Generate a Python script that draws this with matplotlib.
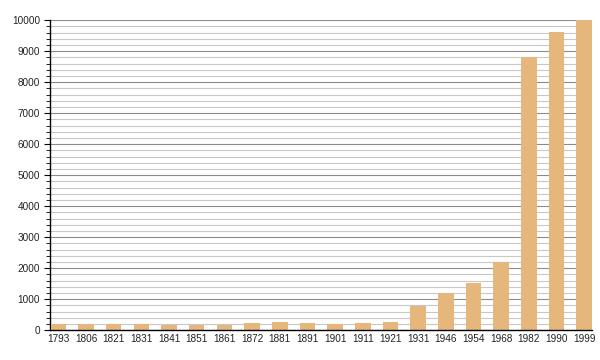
import numpy as np
import matplotlib.pyplot as plt
from matplotlib.ticker import MultipleLocator

years = ['1793', '1806', '1821', '1831', '1841', '1851', '1861', '1872',
         '1881', '1891', '1901', '1911', '1921', '1931', '1946', '1954',
         '1968', '1982', '1990', '1999']
population = [190, 190, 185, 190, 180, 180, 175, 235,
              270, 240, 190, 230, 270, 775, 1200, 1525,
              2195, 8820, 9625, 9990]

plt.rcParams['font.family'] = ['Liberation Sans', 'DejaVu Sans']

fig = plt.figure(figsize=(6, 3.6), dpi=100)
ax = fig.add_axes([0.083, 0.083, 0.904, 0.861])

x = np.arange(len(years))
ax.bar(x, population, width=0.56, color='#e5b77d', zorder=3)

ax.set_xlim(-0.31, len(years) - 1 + 0.29)
ax.set_ylim(0, 10000)
ax.set_xticks(x)
ax.set_xticklabels(years, fontsize=7.2, color='#222222')
ax.tick_params(axis='x', length=0, pad=3)

ax.yaxis.set_major_locator(MultipleLocator(1000))
ax.yaxis.set_minor_locator(MultipleLocator(200))
ax.tick_params(axis='y', which='major', length=4, labelsize=7.2,
               labelcolor='#222222', pad=3)
ax.tick_params(axis='y', which='minor', length=3)

ax.grid(axis='y', which='major', color='#8c8c8c', linewidth=0.8, zorder=0)
ax.grid(axis='y', which='minor', color='#c8c8c8', linewidth=0.8, zorder=0)

for side in ['top', 'right']:
    ax.spines[side].set_visible(False)
ax.spines['left'].set_linewidth(1.0)
ax.spines['bottom'].set_linewidth(1.0)
ax.spines['bottom'].set_zorder(4)

fig.savefig('out.png', dpi=100)
